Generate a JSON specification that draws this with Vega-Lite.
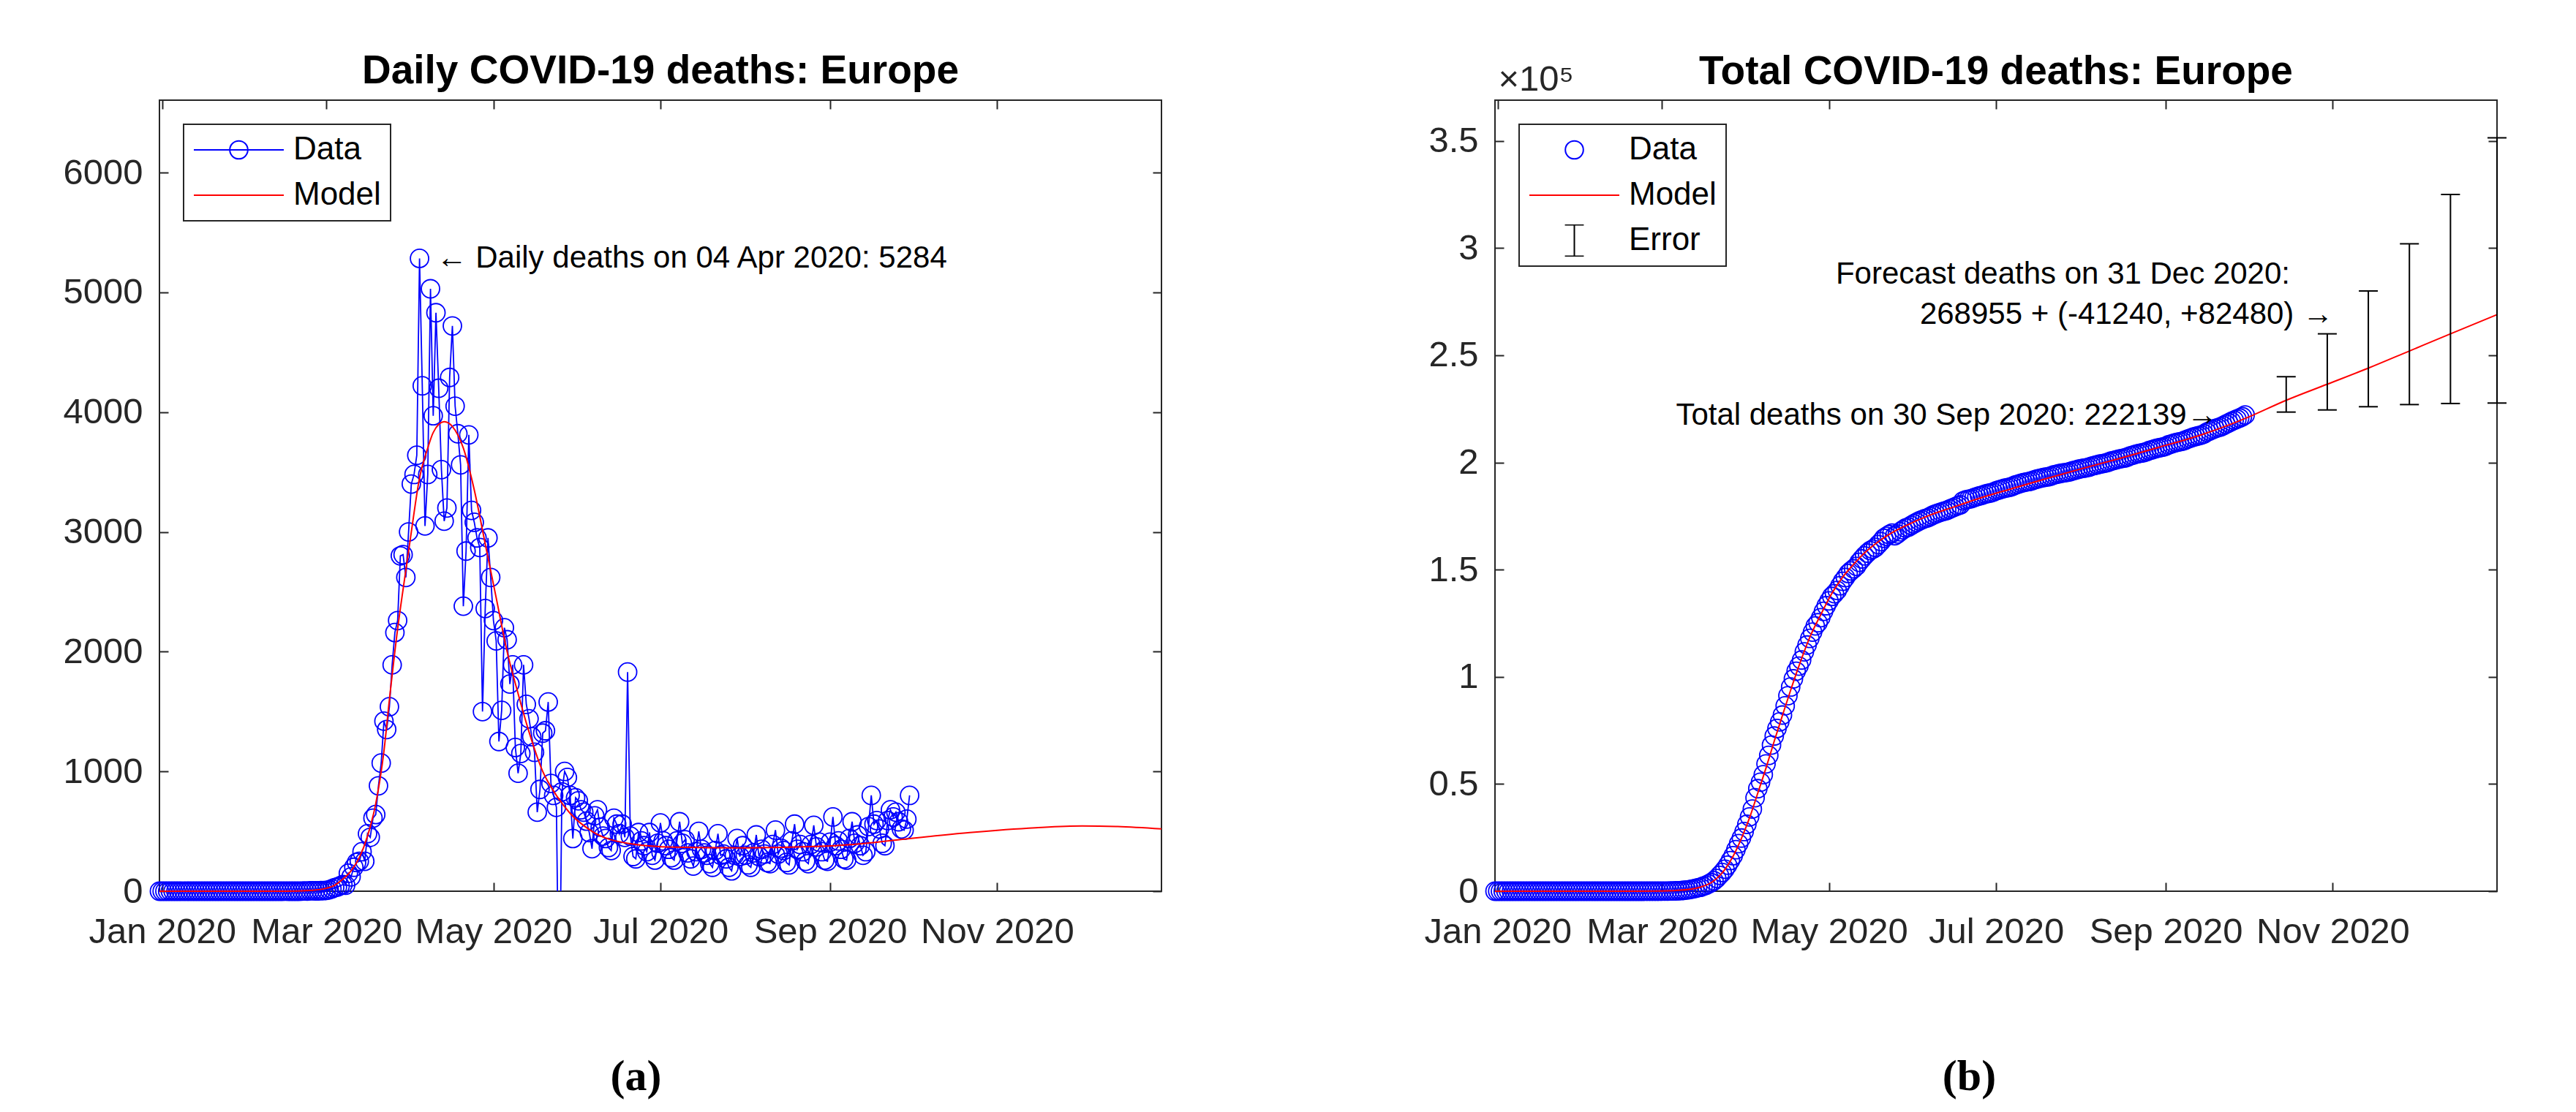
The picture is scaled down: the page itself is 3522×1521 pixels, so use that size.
{
  "$schema": "https://vega.github.io/schema/vega-lite/v6.json",
  "background": "white",
  "padding": {"left": 84, "top": 69, "right": 10, "bottom": 10},
  "bounds": "flush",
  "spacing": 456,
  "resolve": {"scale": {"color": "independent"}, "legend": {"color": "independent"}},
  "config": {
    "font": "Liberation Sans",
    "view": {"stroke": "#262626", "strokeWidth": 2},
    "axis": {"domain": false, "grid": false, "tickSize": -12, "tickWidth": 2, "tickColor": "#262626", "labelFont": "Liberation Sans", "labelFontSize": 49, "labelColor": "#262626", "labelOverlap": false, "labelFlush": false, "labelBound": false, "labelLimit": 400},
    "title": {"font": "Liberation Sans", "fontSize": 55, "fontWeight": "bold", "color": "#000000", "baseline": "alphabetic", "offset": 10, "frame": "group", "anchor": "middle"},
    "legend": {"labelFont": "Liberation Sans", "labelFontSize": 44, "labelColor": "#000000", "labelOffset": 12, "rowPadding": 18, "clipHeight": 44, "padding": 13, "strokeColor": "#262626", "fillColor": "#ffffff", "symbolSize": 15129, "symbolStrokeWidth": 2, "symbolFillColor": "transparent", "symbolOpacity": 1, "orient": "top-left", "offset": 33}
  },
  "datasets": {
    "days": [
      {"d":"2019-12-31","n":0,"c":0},{"d":"2020-01-01","n":0,"c":0},{"d":"2020-01-02","n":0,"c":0},{"d":"2020-01-03","n":0,"c":0},{"d":"2020-01-04","n":0,"c":0},{"d":"2020-01-05","n":0,"c":0},{"d":"2020-01-06","n":0,"c":0},{"d":"2020-01-07","n":0,"c":0},{"d":"2020-01-08","n":0,"c":0},{"d":"2020-01-09","n":0,"c":0},{"d":"2020-01-10","n":0,"c":0},{"d":"2020-01-11","n":0,"c":0},{"d":"2020-01-12","n":0,"c":0},{"d":"2020-01-13","n":0,"c":0},{"d":"2020-01-14","n":0,"c":0},{"d":"2020-01-15","n":0,"c":0},{"d":"2020-01-16","n":0,"c":0},{"d":"2020-01-17","n":0,"c":0},{"d":"2020-01-18","n":0,"c":0},{"d":"2020-01-19","n":0,"c":0},{"d":"2020-01-20","n":0,"c":0},{"d":"2020-01-21","n":0,"c":0},{"d":"2020-01-22","n":0,"c":0},{"d":"2020-01-23","n":0,"c":0},{"d":"2020-01-24","n":0,"c":0},{"d":"2020-01-25","n":0,"c":0},{"d":"2020-01-26","n":0,"c":0},{"d":"2020-01-27","n":0,"c":0},{"d":"2020-01-28","n":0,"c":0},{"d":"2020-01-29","n":0,"c":0},{"d":"2020-01-30","n":0,"c":0},{"d":"2020-01-31","n":0,"c":0},
      {"d":"2020-02-01","n":0,"c":0},{"d":"2020-02-02","n":0,"c":0},{"d":"2020-02-03","n":0,"c":0},{"d":"2020-02-04","n":0,"c":0},{"d":"2020-02-05","n":0,"c":0},{"d":"2020-02-06","n":0,"c":0},{"d":"2020-02-07","n":0,"c":0},{"d":"2020-02-08","n":0,"c":0},{"d":"2020-02-09","n":0,"c":0},{"d":"2020-02-10","n":0,"c":0},{"d":"2020-02-11","n":0,"c":0},{"d":"2020-02-12","n":0,"c":0},{"d":"2020-02-13","n":0,"c":0},{"d":"2020-02-14","n":0,"c":0},
      {"d":"2020-02-15","n":1,"c":1},{"d":"2020-02-16","n":0,"c":1},{"d":"2020-02-17","n":0,"c":1},{"d":"2020-02-18","n":0,"c":1},{"d":"2020-02-19","n":0,"c":1},{"d":"2020-02-20","n":0,"c":1},{"d":"2020-02-21","n":1,"c":2},{"d":"2020-02-22","n":2,"c":4},{"d":"2020-02-23","n":1,"c":5},{"d":"2020-02-24","n":4,"c":9},{"d":"2020-02-25","n":4,"c":13},{"d":"2020-02-26","n":3,"c":16},{"d":"2020-02-27","n":3,"c":19},{"d":"2020-02-28","n":5,"c":24},{"d":"2020-02-29","n":5,"c":29},
      {"d":"2020-03-01","n":7,"c":36},{"d":"2020-03-02","n":12,"c":48},{"d":"2020-03-03","n":20,"c":68},{"d":"2020-03-04","n":30,"c":98},{"d":"2020-03-05","n":35,"c":133},{"d":"2020-03-06","n":45,"c":178},{"d":"2020-03-07","n":55,"c":233},{"d":"2020-03-08","n":50,"c":283},{"d":"2020-03-09","n":150,"c":433},{"d":"2020-03-10","n":120,"c":553},{"d":"2020-03-11","n":200,"c":753},{"d":"2020-03-12","n":240,"c":993},{"d":"2020-03-13","n":250,"c":1243},{"d":"2020-03-14","n":330,"c":1573},{"d":"2020-03-15","n":250,"c":1823},{"d":"2020-03-16","n":480,"c":2303},{"d":"2020-03-17","n":450,"c":2753},{"d":"2020-03-18","n":610,"c":3363},{"d":"2020-03-19","n":640,"c":4003},{"d":"2020-03-20","n":880,"c":4883},{"d":"2020-03-21","n":1070,"c":5953},{"d":"2020-03-22","n":1420,"c":7373},{"d":"2020-03-23","n":1350,"c":8723},{"d":"2020-03-24","n":1540,"c":10263},{"d":"2020-03-25","n":1890,"c":12153},{"d":"2020-03-26","n":2160,"c":14313},{"d":"2020-03-27","n":2260,"c":16573},{"d":"2020-03-28","n":2800,"c":19373},{"d":"2020-03-29","n":2810,"c":22183},{"d":"2020-03-30","n":2620,"c":24803},{"d":"2020-03-31","n":3000,"c":27803},
      {"d":"2020-04-01","n":3400,"c":31203},{"d":"2020-04-02","n":3480,"c":34683},{"d":"2020-04-03","n":3640,"c":38323},{"d":"2020-04-04","n":5284,"c":43607},{"d":"2020-04-05","n":4220,"c":47827},{"d":"2020-04-06","n":3050,"c":50877},{"d":"2020-04-07","n":3480,"c":54357},{"d":"2020-04-08","n":5030,"c":59387},{"d":"2020-04-09","n":3970,"c":63357},{"d":"2020-04-10","n":4830,"c":68187},{"d":"2020-04-11","n":4200,"c":72387},{"d":"2020-04-12","n":3520,"c":75907},{"d":"2020-04-13","n":3090,"c":78997},{"d":"2020-04-14","n":3200,"c":82197},{"d":"2020-04-15","n":4290,"c":86487},{"d":"2020-04-16","n":4720,"c":91207},{"d":"2020-04-17","n":4050,"c":95257},{"d":"2020-04-18","n":3820,"c":99077},{"d":"2020-04-19","n":3560,"c":102637},{"d":"2020-04-20","n":2380,"c":105017},{"d":"2020-04-21","n":2840,"c":107857},{"d":"2020-04-22","n":3810,"c":111667},{"d":"2020-04-23","n":3180,"c":114847},{"d":"2020-04-24","n":3080,"c":117927},{"d":"2020-04-25","n":2950,"c":120877},{"d":"2020-04-26","n":2870,"c":123747},{"d":"2020-04-27","n":1500,"c":125247},{"d":"2020-04-28","n":2360,"c":127607},{"d":"2020-04-29","n":2950,"c":130557},{"d":"2020-04-30","n":2620,"c":133177},
      {"d":"2020-05-01","n":2260,"c":135437},{"d":"2020-05-02","n":2090,"c":137527},{"d":"2020-05-03","n":1250,"c":138777},{"d":"2020-05-04","n":1510,"c":140287},{"d":"2020-05-05","n":2200,"c":142487},{"d":"2020-05-06","n":2100,"c":144587},{"d":"2020-05-07","n":1730,"c":146317},{"d":"2020-05-08","n":1890,"c":148207},{"d":"2020-05-09","n":1200,"c":149407},{"d":"2020-05-10","n":985,"c":150392},{"d":"2020-05-11","n":1150,"c":151542},{"d":"2020-05-12","n":1890,"c":153432},{"d":"2020-05-13","n":1560,"c":154992},{"d":"2020-05-14","n":1440,"c":156432},{"d":"2020-05-15","n":1290,"c":157722},{"d":"2020-05-16","n":1160,"c":158882},{"d":"2020-05-17","n":660,"c":159542},{"d":"2020-05-18","n":850,"c":160392},{"d":"2020-05-19","n":1320,"c":161712},{"d":"2020-05-20","n":1340,"c":163052},{"d":"2020-05-21","n":1580,"c":164632},{"d":"2020-05-22","n":900,"c":165532},{"d":"2020-05-23","n":800,"c":166332},{"d":"2020-05-24","n":700,"c":167032},{"d":"2020-05-25","n":-1200,"c":165832},{"d":"2020-05-26","n":830,"c":166662},{"d":"2020-05-27","n":1000,"c":167662},{"d":"2020-05-28","n":950,"c":168612},{"d":"2020-05-29","n":800,"c":169412},{"d":"2020-05-30","n":440,"c":169852},{"d":"2020-05-31","n":780,"c":170632},
      {"d":"2020-06-01","n":755,"c":171387},{"d":"2020-06-02","n":680,"c":172067},{"d":"2020-06-03","n":660,"c":172727},{"d":"2020-06-04","n":585,"c":173312},{"d":"2020-06-05","n":490,"c":173802},{"d":"2020-06-06","n":355,"c":174157},{"d":"2020-06-07","n":630,"c":174787},{"d":"2020-06-08","n":680,"c":175467},{"d":"2020-06-09","n":535,"c":176002},{"d":"2020-06-10","n":460,"c":176462},{"d":"2020-06-11","n":440,"c":176902},{"d":"2020-06-12","n":365,"c":177267},{"d":"2020-06-13","n":340,"c":177607},{"d":"2020-06-14","n":610,"c":178217},{"d":"2020-06-15","n":560,"c":178777},{"d":"2020-06-16","n":480,"c":179257},{"d":"2020-06-17","n":560,"c":179817},{"d":"2020-06-18","n":450,"c":180267},{"d":"2020-06-19","n":1830,"c":182097},{"d":"2020-06-20","n":460,"c":182557},{"d":"2020-06-21","n":290,"c":182847},{"d":"2020-06-22","n":270,"c":183117},{"d":"2020-06-23","n":490,"c":183607},{"d":"2020-06-24","n":420,"c":184027},{"d":"2020-06-25","n":380,"c":184407},{"d":"2020-06-26","n":330,"c":184737},{"d":"2020-06-27","n":490,"c":185227},{"d":"2020-06-28","n":300,"c":185527},{"d":"2020-06-29","n":260,"c":185787},{"d":"2020-06-30","n":400,"c":186187},
      {"d":"2020-07-01","n":570,"c":186757},{"d":"2020-07-02","n":420,"c":187177},{"d":"2020-07-03","n":380,"c":187557},{"d":"2020-07-04","n":350,"c":187907},{"d":"2020-07-05","n":280,"c":188187},{"d":"2020-07-06","n":260,"c":188447},{"d":"2020-07-07","n":420,"c":188867},{"d":"2020-07-08","n":580,"c":189447},{"d":"2020-07-09","n":400,"c":189847},{"d":"2020-07-10","n":430,"c":190277},{"d":"2020-07-11","n":320,"c":190597},{"d":"2020-07-12","n":270,"c":190867},{"d":"2020-07-13","n":210,"c":191077},{"d":"2020-07-14","n":330,"c":191407},{"d":"2020-07-15","n":500,"c":191907},{"d":"2020-07-16","n":350,"c":192257},{"d":"2020-07-17","n":320,"c":192577},{"d":"2020-07-18","n":300,"c":192877},{"d":"2020-07-19","n":230,"c":193107},{"d":"2020-07-20","n":200,"c":193307},{"d":"2020-07-21","n":340,"c":193647},{"d":"2020-07-22","n":480,"c":194127},{"d":"2020-07-23","n":300,"c":194427},{"d":"2020-07-24","n":310,"c":194737},{"d":"2020-07-25","n":270,"c":195007},{"d":"2020-07-26","n":200,"c":195207},{"d":"2020-07-27","n":170,"c":195377},{"d":"2020-07-28","n":300,"c":195677},{"d":"2020-07-29","n":440,"c":196117},{"d":"2020-07-30","n":290,"c":196407},{"d":"2020-07-31","n":380,"c":196787},
      {"d":"2020-08-01","n":300,"c":197087},{"d":"2020-08-02","n":220,"c":197307},{"d":"2020-08-03","n":200,"c":197507},{"d":"2020-08-04","n":320,"c":197827},{"d":"2020-08-05","n":470,"c":198297},{"d":"2020-08-06","n":290,"c":198587},{"d":"2020-08-07","n":350,"c":198937},{"d":"2020-08-08","n":310,"c":199247},{"d":"2020-08-09","n":240,"c":199487},{"d":"2020-08-10","n":230,"c":199717},{"d":"2020-08-11","n":390,"c":200107},{"d":"2020-08-12","n":510,"c":200617},{"d":"2020-08-13","n":310,"c":200927},{"d":"2020-08-14","n":360,"c":201287},{"d":"2020-08-15","n":340,"c":201627},{"d":"2020-08-16","n":240,"c":201867},{"d":"2020-08-17","n":220,"c":202087},{"d":"2020-08-18","n":420,"c":202507},{"d":"2020-08-19","n":560,"c":203067},{"d":"2020-08-20","n":350,"c":203417},{"d":"2020-08-21","n":390,"c":203807},{"d":"2020-08-22","n":330,"c":204137},{"d":"2020-08-23","n":250,"c":204387},{"d":"2020-08-24","n":230,"c":204617},{"d":"2020-08-25","n":390,"c":205007},{"d":"2020-08-26","n":550,"c":205557},{"d":"2020-08-27","n":370,"c":205927},{"d":"2020-08-28","n":410,"c":206337},{"d":"2020-08-29","n":330,"c":206667},{"d":"2020-08-30","n":260,"c":206927},{"d":"2020-08-31","n":250,"c":207177},
      {"d":"2020-09-01","n":410,"c":207587},{"d":"2020-09-02","n":620,"c":208207},{"d":"2020-09-03","n":380,"c":208587},{"d":"2020-09-04","n":420,"c":209007},{"d":"2020-09-05","n":350,"c":209357},{"d":"2020-09-06","n":270,"c":209627},{"d":"2020-09-07","n":260,"c":209887},{"d":"2020-09-08","n":440,"c":210327},{"d":"2020-09-09","n":580,"c":210907},{"d":"2020-09-10","n":400,"c":211307},{"d":"2020-09-11","n":470,"c":211777},{"d":"2020-09-12","n":380,"c":212157},{"d":"2020-09-13","n":300,"c":212457},{"d":"2020-09-14","n":330,"c":212787},{"d":"2020-09-15","n":540,"c":213327},{"d":"2020-09-16","n":800,"c":214127},{"d":"2020-09-17","n":560,"c":214687},{"d":"2020-09-18","n":590,"c":215277},{"d":"2020-09-19","n":520,"c":215797},{"d":"2020-09-20","n":400,"c":216197},{"d":"2020-09-21","n":380,"c":216577},{"d":"2020-09-22","n":590,"c":217167},{"d":"2020-09-23","n":680,"c":217847},{"d":"2020-09-24","n":620,"c":218467},{"d":"2020-09-25","n":660,"c":219127},{"d":"2020-09-26","n":580,"c":219707},{"d":"2020-09-27","n":520,"c":220227},{"d":"2020-09-28","n":510,"c":220737},{"d":"2020-09-29","n":602,"c":221339},{"d":"2020-09-30","n":800,"c":222139}
    ],
    "modelDaily": [
      {"d":"2019-12-31","v":0},{"d":"2020-02-15","v":0},{"d":"2020-02-25","v":8},{"d":"2020-03-01","v":25},{"d":"2020-03-04","v":50},{"d":"2020-03-07","v":100},{"d":"2020-03-10","v":170},{"d":"2020-03-13","v":280},{"d":"2020-03-16","v":460},{"d":"2020-03-19","v":730},{"d":"2020-03-22","v":1170},{"d":"2020-03-24","v":1600},{"d":"2020-03-27","v":2190},{"d":"2020-03-30","v":2680},{"d":"2020-04-01","v":3000},{"d":"2020-04-04","v":3450},{"d":"2020-04-07","v":3700},{"d":"2020-04-09","v":3830},{"d":"2020-04-13","v":3920},{"d":"2020-04-16","v":3880},{"d":"2020-04-20","v":3700},{"d":"2020-04-24","v":3350},{"d":"2020-04-28","v":2900},{"d":"2020-05-02","v":2450},{"d":"2020-05-06","v":2000},{"d":"2020-05-10","v":1650},{"d":"2020-05-14","v":1330},{"d":"2020-05-19","v":1000},{"d":"2020-05-24","v":800},{"d":"2020-05-29","v":650},{"d":"2020-06-06","v":500},{"d":"2020-06-19","v":400},{"d":"2020-07-06","v":368},{"d":"2020-08-01","v":362},{"d":"2020-08-29","v":375},{"d":"2020-09-14","v":400},{"d":"2020-09-30","v":440},{"d":"2020-10-22","v":490},{"d":"2020-11-15","v":530},{"d":"2020-12-02","v":545},{"d":"2020-12-15","v":540},{"d":"2020-12-31","v":520}
    ],
    "modelTotal": [
      {"d":"2019-12-31","v":0},{"d":"2020-02-20","v":0},{"d":"2020-03-01","v":60},{"d":"2020-03-07","v":400},{"d":"2020-03-13","v":1300},{"d":"2020-03-16","v":2300},{"d":"2020-03-19","v":4000},{"d":"2020-03-22","v":7200},{"d":"2020-03-24","v":10200},{"d":"2020-03-27","v":16400},{"d":"2020-03-30","v":24600},{"d":"2020-04-02","v":34300},{"d":"2020-04-05","v":45800},{"d":"2020-04-08","v":57500},{"d":"2020-04-11","v":70000},{"d":"2020-04-14","v":82000},{"d":"2020-04-17","v":93800},{"d":"2020-04-20","v":105000},{"d":"2020-04-24","v":118500},{"d":"2020-04-28","v":129000},{"d":"2020-05-02","v":138800},{"d":"2020-05-06","v":146500},{"d":"2020-05-10","v":152500},{"d":"2020-05-14","v":157800},{"d":"2020-05-19","v":163000},{"d":"2020-05-24","v":167200},{"d":"2020-05-29","v":170500},{"d":"2020-06-06","v":175000},{"d":"2020-06-15","v":179000},{"d":"2020-06-24","v":182900},{"d":"2020-07-06","v":187500},{"d":"2020-07-20","v":192700},{"d":"2020-08-01","v":197000},{"d":"2020-08-15","v":201800},{"d":"2020-08-29","v":206900},{"d":"2020-09-14","v":212900},{"d":"2020-09-30","v":220500},{"d":"2020-10-15","v":229000},{"d":"2020-10-30","v":236500},{"d":"2020-11-14","v":244000},{"d":"2020-11-29","v":252000},{"d":"2020-12-14","v":260000},{"d":"2020-12-31","v":268955}
    ],
    "errors": [
      {"d":"2020-10-15","lo":223500,"hi":240000},{"d":"2020-10-30","lo":224500,"hi":260000},{"d":"2020-11-14","lo":226000,"hi":280000},{"d":"2020-11-29","lo":227000,"hi":302000},{"d":"2020-12-14","lo":227500,"hi":325000},{"d":"2020-12-31","lo":227715,"hi":351435}
    ],
    "peakNote": [{"d":"2020-04-04","v":5284,"t":"← Daily deaths on 04 Apr 2020: 5284"}],
    "totalNote": [{"d":"2020-09-30","v":222139,"t":"Total deaths on 30 Sep 2020: 222139→"}],
    "forecastNote": [{"d":"2020-12-31","v":268955,"t1":"Forecast deaths on 31 Dec 2020:","t2":"268955 + (-41240, +82480) →"}]
  },
  "hconcat": [
    {
      "width": 1370,
      "height": 1082,
      "title": {"text": "Daily COVID-19 deaths: Europe"},
      "resolve": {"axis": {"x": "independent", "y": "independent"}},
      "layer": [
        {
          "data": {"name": "days"},
          "mark": {"type": "line", "strokeWidth": 1.8, "clip": true},
          "encoding": {
            "x": {"field": "d", "type": "temporal",
              "scale": {"type": "utc", "domain": [{"year": 2019, "month": 12, "date": 31, "utc": true}, {"year": 2020, "month": 12, "date": 31, "utc": true}]},
              "axis": {"orient": "bottom", "values": [{"year": 2020, "month": 1, "date": 1, "utc": true}, {"year": 2020, "month": 3, "date": 1, "utc": true}, {"year": 2020, "month": 5, "date": 1, "utc": true}, {"year": 2020, "month": 7, "date": 1, "utc": true}, {"year": 2020, "month": 9, "date": 1, "utc": true}, {"year": 2020, "month": 11, "date": 1, "utc": true}],
                "labelExpr": "utcFormat(datum.value, '%b %Y')", "labelPadding": 43,
                "title": "(a)", "titleFont": "Liberation Serif", "titleFontSize": 60, "titleFontWeight": "bold", "titleColor": "#000000", "titleX": 651, "titleY": 253, "titleBaseline": "middle", "titleAlign": "center", "titleAngle": 0}},
            "y": {"field": "n", "type": "quantitative", "scale": {"domain": [0, 6605], "nice": false},
              "axis": {"orient": "left", "values": [0, 1000, 2000, 3000, 4000, 5000, 6000], "format": "d", "labelPadding": 35, "title": null}},
            "color": {"datum": "Data", "type": "nominal",
              "scale": {"domain": ["Data", "Model"], "range": ["#0000ff", "#ff0000"]},
              "legend": {"title": null,
                "encode": {
                  "symbols": {"update": {
                    "shape": {"signal": "datum.value === 'Data' ? 'M-1,0L1,0M-0.2,0A0.2,0.2 0 1,1 0.2,0A0.2,0.2 0 1,1 -0.2,0' : 'M-1,0L1,0'"},
                    "size": {"value": 15129},
                    "fill": {"value": "transparent"},
                    "fillOpacity": {"value": 0},
                    "stroke": {"signal": "datum.value === 'Data' ? '#0000ff' : '#ff0000'"},
                    "strokeWidth": {"value": 2},
                    "opacity": {"value": 1}}},
                  "legend": {"update": {"strokeWidth": {"value": 2}}}}}}
          }
        },
        {
          "data": {"name": "days"},
          "transform": [{"filter": "datum.n >= 0"}],
          "mark": {"type": "point", "shape": "circle", "filled": false, "size": 625, "strokeWidth": 1.8, "opacity": 1},
          "encoding": {
            "x": {"field": "d", "type": "temporal",
              "axis": {"orient": "top", "labels": false, "title": null, "values": [{"year": 2020, "month": 1, "date": 1, "utc": true}, {"year": 2020, "month": 3, "date": 1, "utc": true}, {"year": 2020, "month": 5, "date": 1, "utc": true}, {"year": 2020, "month": 7, "date": 1, "utc": true}, {"year": 2020, "month": 9, "date": 1, "utc": true}, {"year": 2020, "month": 11, "date": 1, "utc": true}]}},
            "y": {"field": "n", "type": "quantitative",
              "axis": {"orient": "right", "labels": false, "title": null, "values": [0, 1000, 2000, 3000, 4000, 5000, 6000]}},
            "color": {"datum": "Data", "type": "nominal",
              "legend": {"title": null,
                "encode": {
                  "symbols": {"update": {
                    "shape": {"signal": "datum.value === 'Data' ? 'M-1,0L1,0M-0.2,0A0.2,0.2 0 1,1 0.2,0A0.2,0.2 0 1,1 -0.2,0' : 'M-1,0L1,0'"},
                    "size": {"value": 15129},
                    "fill": {"value": "transparent"},
                    "fillOpacity": {"value": 0},
                    "stroke": {"signal": "datum.value === 'Data' ? '#0000ff' : '#ff0000'"},
                    "strokeWidth": {"value": 2},
                    "opacity": {"value": 1}}},
                  "legend": {"update": {"strokeWidth": {"value": 2}}}}}}
          }
        },
        {
          "data": {"name": "modelDaily"},
          "mark": {"type": "line", "strokeWidth": 2, "interpolate": "monotone"},
          "encoding": {
            "x": {"field": "d", "type": "temporal", "axis": null},
            "y": {"field": "v", "type": "quantitative", "axis": null},
            "color": {"datum": "Model", "type": "nominal",
              "legend": {"title": null,
                "encode": {
                  "symbols": {"update": {
                    "shape": {"signal": "datum.value === 'Data' ? 'M-1,0L1,0M-0.2,0A0.2,0.2 0 1,1 0.2,0A0.2,0.2 0 1,1 -0.2,0' : 'M-1,0L1,0'"},
                    "size": {"value": 15129},
                    "fill": {"value": "transparent"},
                    "fillOpacity": {"value": 0},
                    "stroke": {"signal": "datum.value === 'Data' ? '#0000ff' : '#ff0000'"},
                    "strokeWidth": {"value": 2},
                    "opacity": {"value": 1}}},
                  "legend": {"update": {"strokeWidth": {"value": 2}}}}}}
          }
        },
        {
          "data": {"name": "peakNote"},
          "mark": {"type": "text", "align": "left", "baseline": "middle", "dx": 23, "font": "Liberation Sans", "fontSize": 42, "color": "#000000"},
          "encoding": {
            "x": {"field": "d", "type": "temporal", "axis": null},
            "y": {"field": "v", "type": "quantitative", "axis": null},
            "text": {"field": "t"}
          }
        }
      ]
    },
    {
      "width": 1370,
      "height": 1082,
      "title": {"text": "Total COVID-19 deaths: Europe", "dy": 53},
      "resolve": {"axis": {"x": "independent", "y": "independent"}},
      "layer": [
        {
          "data": {"name": "days"},
          "mark": {"type": "point", "shape": "circle", "filled": false, "size": 625, "strokeWidth": 1.8, "opacity": 1},
          "encoding": {
            "x": {"field": "d", "type": "temporal",
              "scale": {"type": "utc", "domain": [{"year": 2019, "month": 12, "date": 31, "utc": true}, {"year": 2020, "month": 12, "date": 31, "utc": true}]},
              "axis": {"orient": "bottom", "values": [{"year": 2020, "month": 1, "date": 1, "utc": true}, {"year": 2020, "month": 3, "date": 1, "utc": true}, {"year": 2020, "month": 5, "date": 1, "utc": true}, {"year": 2020, "month": 7, "date": 1, "utc": true}, {"year": 2020, "month": 9, "date": 1, "utc": true}, {"year": 2020, "month": 11, "date": 1, "utc": true}],
                "labelExpr": "utcFormat(datum.value, '%b %Y')", "labelPadding": 43,
                "title": "(b)", "titleFont": "Liberation Serif", "titleFontSize": 60, "titleFontWeight": "bold", "titleColor": "#000000", "titleX": 648, "titleY": 253, "titleBaseline": "middle", "titleAlign": "center", "titleAngle": 0}},
            "y": {"field": "c", "type": "quantitative", "scale": {"domain": [0, 369000], "nice": false},
              "axis": {"orient": "left", "values": [0, 50000, 100000, 150000, 200000, 250000, 300000, 350000], "labelExpr": "datum.value / 100000", "labelPadding": 35,
                "title": "×10⁵", "titleAngle": 0, "titleAlign": "left", "titleBaseline": "alphabetic", "titleX": 4, "titleY": -14, "titleFont": "Liberation Sans", "titleFontSize": 49, "titleFontWeight": "normal", "titleColor": "#262626"}},
            "color": {"datum": "Data", "type": "nominal",
              "scale": {"domain": ["Data", "Model", "Error"], "range": ["#0000ff", "#ff0000", "#000000"]},
              "legend": {"title": null,
                "encode": {
                  "symbols": {"update": {
                    "shape": {"signal": "datum.value === 'Data' ? 'M-0.2,0A0.2,0.2 0 1,1 0.2,0A0.2,0.2 0 1,1 -0.2,0' : datum.value === 'Model' ? 'M-1,0L1,0' : 'M-0.21,-0.35L0.21,-0.35M0,-0.35L0,0.35M-0.21,0.35L0.21,0.35'"},
                    "size": {"value": 15129},
                    "fill": {"value": "transparent"},
                    "fillOpacity": {"value": 0},
                    "stroke": {"signal": "datum.value === 'Data' ? '#0000ff' : datum.value === 'Model' ? '#ff0000' : '#000000'"},
                    "strokeWidth": {"value": 2},
                    "opacity": {"value": 1}}},
                  "legend": {"update": {"strokeWidth": {"value": 2}}}}}}
          }
        },
        {
          "data": {"name": "modelTotal"},
          "mark": {"type": "line", "strokeWidth": 2, "interpolate": "monotone"},
          "encoding": {
            "x": {"field": "d", "type": "temporal",
              "axis": {"orient": "top", "labels": false, "title": null, "values": [{"year": 2020, "month": 1, "date": 1, "utc": true}, {"year": 2020, "month": 3, "date": 1, "utc": true}, {"year": 2020, "month": 5, "date": 1, "utc": true}, {"year": 2020, "month": 7, "date": 1, "utc": true}, {"year": 2020, "month": 9, "date": 1, "utc": true}, {"year": 2020, "month": 11, "date": 1, "utc": true}]}},
            "y": {"field": "v", "type": "quantitative",
              "axis": {"orient": "right", "labels": false, "title": null, "values": [0, 50000, 100000, 150000, 200000, 250000, 300000, 350000]}},
            "color": {"datum": "Model", "type": "nominal",
              "legend": {"title": null,
                "encode": {
                  "symbols": {"update": {
                    "shape": {"signal": "datum.value === 'Data' ? 'M-0.2,0A0.2,0.2 0 1,1 0.2,0A0.2,0.2 0 1,1 -0.2,0' : datum.value === 'Model' ? 'M-1,0L1,0' : 'M-0.21,-0.35L0.21,-0.35M0,-0.35L0,0.35M-0.21,0.35L0.21,0.35'"},
                    "size": {"value": 15129},
                    "fill": {"value": "transparent"},
                    "fillOpacity": {"value": 0},
                    "stroke": {"signal": "datum.value === 'Data' ? '#0000ff' : datum.value === 'Model' ? '#ff0000' : '#000000'"},
                    "strokeWidth": {"value": 2},
                    "opacity": {"value": 1}}},
                  "legend": {"update": {"strokeWidth": {"value": 2}}}}}}
          }
        },
        {
          "data": {"name": "errors"},
          "mark": {"type": "rule", "strokeWidth": 2, "opacity": 1},
          "encoding": {
            "x": {"field": "d", "type": "temporal", "axis": null},
            "y": {"field": "lo", "type": "quantitative", "axis": null},
            "y2": {"field": "hi"},
            "color": {"datum": "Error", "type": "nominal",
              "legend": {"title": null,
                "encode": {
                  "symbols": {"update": {
                    "shape": {"signal": "datum.value === 'Data' ? 'M-0.2,0A0.2,0.2 0 1,1 0.2,0A0.2,0.2 0 1,1 -0.2,0' : datum.value === 'Model' ? 'M-1,0L1,0' : 'M-0.21,-0.35L0.21,-0.35M0,-0.35L0,0.35M-0.21,0.35L0.21,0.35'"},
                    "size": {"value": 15129},
                    "fill": {"value": "transparent"},
                    "fillOpacity": {"value": 0},
                    "stroke": {"signal": "datum.value === 'Data' ? '#0000ff' : datum.value === 'Model' ? '#ff0000' : '#000000'"},
                    "strokeWidth": {"value": 2},
                    "opacity": {"value": 1}}},
                  "legend": {"update": {"strokeWidth": {"value": 2}}}}}}
          }
        },
        {
          "data": {"name": "errors"},
          "mark": {"type": "tick", "orient": "horizontal", "size": 26, "thickness": 2, "opacity": 1},
          "encoding": {
            "x": {"field": "d", "type": "temporal", "axis": null},
            "y": {"field": "lo", "type": "quantitative", "axis": null},
            "color": {"datum": "Error", "type": "nominal",
              "legend": {"title": null,
                "encode": {
                  "symbols": {"update": {
                    "shape": {"signal": "datum.value === 'Data' ? 'M-0.2,0A0.2,0.2 0 1,1 0.2,0A0.2,0.2 0 1,1 -0.2,0' : datum.value === 'Model' ? 'M-1,0L1,0' : 'M-0.21,-0.35L0.21,-0.35M0,-0.35L0,0.35M-0.21,0.35L0.21,0.35'"},
                    "size": {"value": 15129},
                    "fill": {"value": "transparent"},
                    "fillOpacity": {"value": 0},
                    "stroke": {"signal": "datum.value === 'Data' ? '#0000ff' : datum.value === 'Model' ? '#ff0000' : '#000000'"},
                    "strokeWidth": {"value": 2},
                    "opacity": {"value": 1}}},
                  "legend": {"update": {"strokeWidth": {"value": 2}}}}}}
          }
        },
        {
          "data": {"name": "errors"},
          "mark": {"type": "tick", "orient": "horizontal", "size": 26, "thickness": 2, "opacity": 1},
          "encoding": {
            "x": {"field": "d", "type": "temporal", "axis": null},
            "y": {"field": "hi", "type": "quantitative", "axis": null},
            "color": {"datum": "Error", "type": "nominal",
              "legend": {"title": null,
                "encode": {
                  "symbols": {"update": {
                    "shape": {"signal": "datum.value === 'Data' ? 'M-0.2,0A0.2,0.2 0 1,1 0.2,0A0.2,0.2 0 1,1 -0.2,0' : datum.value === 'Model' ? 'M-1,0L1,0' : 'M-0.21,-0.35L0.21,-0.35M0,-0.35L0,0.35M-0.21,0.35L0.21,0.35'"},
                    "size": {"value": 15129},
                    "fill": {"value": "transparent"},
                    "fillOpacity": {"value": 0},
                    "stroke": {"signal": "datum.value === 'Data' ? '#0000ff' : datum.value === 'Model' ? '#ff0000' : '#000000'"},
                    "strokeWidth": {"value": 2},
                    "opacity": {"value": 1}}},
                  "legend": {"update": {"strokeWidth": {"value": 2}}}}}}
          }
        },
        {
          "data": {"name": "totalNote"},
          "mark": {"type": "text", "align": "right", "baseline": "middle", "dx": -38, "font": "Liberation Sans", "fontSize": 42, "color": "#000000"},
          "encoding": {
            "x": {"field": "d", "type": "temporal", "axis": null},
            "y": {"field": "v", "type": "quantitative", "axis": null},
            "text": {"field": "t"}
          }
        },
        {
          "data": {"name": "forecastNote"},
          "mark": {"type": "text", "align": "right", "baseline": "middle", "dx": -283, "dy": -55, "font": "Liberation Sans", "fontSize": 42, "color": "#000000"},
          "encoding": {
            "x": {"field": "d", "type": "temporal", "axis": null},
            "y": {"field": "v", "type": "quantitative", "axis": null},
            "text": {"field": "t1"}
          }
        },
        {
          "data": {"name": "forecastNote"},
          "mark": {"type": "text", "align": "right", "baseline": "middle", "dx": -224, "font": "Liberation Sans", "fontSize": 42, "color": "#000000"},
          "encoding": {
            "x": {"field": "d", "type": "temporal", "axis": null},
            "y": {"field": "v", "type": "quantitative", "axis": null},
            "text": {"field": "t2"}
          }
        }
      ]
    }
  ]
}
